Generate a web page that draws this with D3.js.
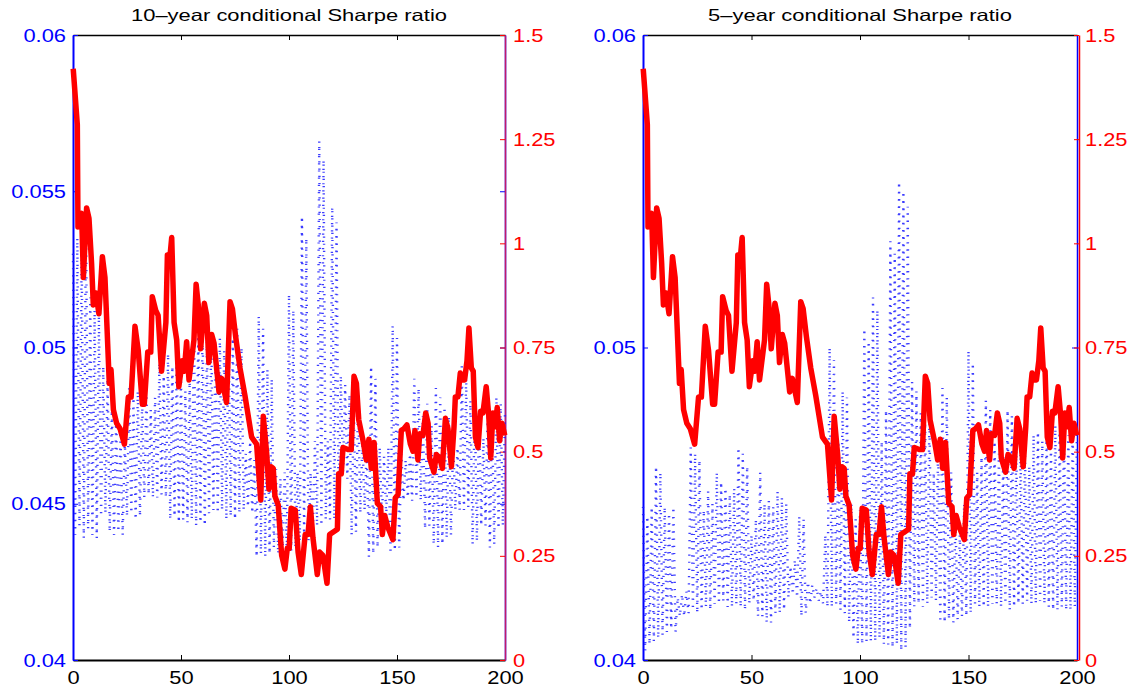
<!DOCTYPE html>
<html>
<head>
<meta charset="utf-8">
<script src="https://cdn.jsdelivr.net/npm/d3@7"></script>
<style>
  body { margin: 0; background: #fff; }
</style>
</head>
<body>
<svg id="chart" width="1141" height="690"></svg>
<script>
// titles and ticks
const titles = ['10\u2013year conditional Sharpe ratio', '5\u2013year conditional Sharpe ratio'];
const xTicks = [0, 50, 100, 150, 200];
const redTicks = [0, 0.25, 0.5, 0.75, 1, 1.25, 1.5];
const blueTicks10 = [0.04, 0.045, 0.05, 0.055, 0.06];
const blueTicks5 = [0.04, 0.05, 0.06];

// red series (right axis), same in both panels: vertex positions and values
const redX = [0.1, 2, 2.3, 4, 4.8, 6.3, 7.4, 8.6, 9.4, 10.6, 12, 13.6, 14.8, 16.8, 17.6, 18.7, 20.2, 21.8, 23.8, 25.6,
  26.9, 28.7, 30.2, 32.1, 33, 34.6, 36, 36.7, 38.3, 39.4, 41, 43, 43.7, 44.6, 45.7, 46.8, 48, 49, 50.6, 51.5,
  52.6, 53.7, 56, 57, 58, 59.1, 60.8, 61.9, 62.9, 64.2, 65.3, 67.6, 68.8, 69.6, 71.1, 72.7, 73.8, 75.3, 77.3, 79.6,
  82.7, 85, 86.9, 88.1, 89.7, 90.7, 91.7, 92.7, 93.5, 95, 96.6, 98.1, 99.2, 100.1, 101, 102.9, 104.2, 105.7, 107.5, 108.8,
  109.9, 111.1, 113.1, 114.2, 115.7, 117.6, 118.8, 122.4, 123, 124.2, 125, 127.3, 128.8, 130.1, 131.2, 132.3, 134.3, 135.8, 137, 138.1,
  139.4, 140.9, 142.4, 143.2, 144.3, 145.8, 148.1, 149.2, 150.5, 152, 153.2, 154.6, 156.2, 157.4, 158.3, 159.7, 160.5, 162, 163.3, 164.4,
  165.1, 167.1, 168.2, 169.8, 171, 172.4, 173.6, 175.2, 176.4, 177, 178.2, 179.3, 180.2, 181.3, 182.4, 183.3, 184.4, 185.3, 186.3, 187.5,
  188.7, 189.8, 191.3, 192.5, 193.4, 194.4, 195.5, 196.4, 197.5, 198.6, 199.9];
const redY = [1.419, 1.285, 1.039, 1.072, 0.918, 1.085, 1.060, 0.952, 0.852, 0.881, 0.831, 0.968, 0.918, 0.664, 0.697, 0.601, 0.568, 0.555, 0.518, 0.631,
  0.631, 0.801, 0.743, 0.614, 0.614, 0.739, 0.739, 0.872, 0.839, 0.827, 0.693, 0.810, 0.972, 0.952, 1.014, 0.810, 0.768, 0.656, 0.718, 0.693,
  0.764, 0.672, 0.768, 0.902, 0.852, 0.747, 0.856, 0.827, 0.714, 0.781, 0.760, 0.643, 0.676, 0.656, 0.618, 0.860, 0.843, 0.776, 0.701, 0.635,
  0.535, 0.518, 0.384, 0.585, 0.493, 0.410, 0.464, 0.460, 0.393, 0.372, 0.251, 0.218, 0.268, 0.268, 0.364, 0.360, 0.259, 0.205, 0.301, 0.301,
  0.368, 0.293, 0.205, 0.259, 0.251, 0.184, 0.301, 0.314, 0.447, 0.447, 0.510, 0.505, 0.505, 0.681, 0.664, 0.576, 0.526, 0.480, 0.530, 0.460,
  0.522, 0.376, 0.368, 0.301, 0.347, 0.318, 0.289, 0.389, 0.397, 0.551, 0.555, 0.564, 0.518, 0.501, 0.551, 0.480, 0.543, 0.539, 0.593, 0.568,
  0.485, 0.451, 0.493, 0.485, 0.460, 0.580, 0.555, 0.464, 0.560, 0.631, 0.631, 0.689, 0.672, 0.672, 0.718, 0.797, 0.701, 0.693, 0.535, 0.510,
  0.597, 0.593, 0.656, 0.585, 0.485, 0.593, 0.560, 0.606, 0.526, 0.568, 0.539];

// blue series (left axis), one value per period 0..200
const blue10 = [
  0.0530, 0.0440, 0.0535, 0.0443, 0.0532, 0.0439, 0.0545, 0.0442, 0.0516, 0.0440,
  0.0512, 0.0439, 0.0510, 0.0446, 0.0494, 0.0447, 0.0490, 0.0441, 0.0480, 0.0440,
  0.0478, 0.0441, 0.0472, 0.0440, 0.0470, 0.0446, 0.0487, 0.0447, 0.0484, 0.0445,
  0.0486, 0.0446, 0.0483, 0.0452, 0.0485, 0.0453, 0.0480, 0.0452, 0.0484, 0.0452,
  0.0495, 0.0453, 0.0491, 0.0452, 0.0498, 0.0445, 0.0494, 0.0446, 0.0497, 0.0444,
  0.0490, 0.0445, 0.0486, 0.0444, 0.0489, 0.0445, 0.0509, 0.0443, 0.0505, 0.0444,
  0.0508, 0.0443, 0.0502, 0.0447, 0.0505, 0.0448, 0.0500, 0.0447, 0.0503, 0.0448,
  0.0499, 0.0445, 0.0507, 0.0446, 0.0503, 0.0445, 0.0506, 0.0447, 0.0500, 0.0448,
  0.0466, 0.0449, 0.0470, 0.0447, 0.0464, 0.0433, 0.0510, 0.0434, 0.0506, 0.0433,
  0.0493, 0.0434, 0.0490, 0.0436, 0.0461, 0.0434, 0.0458, 0.0435, 0.0460, 0.0434,
  0.0517, 0.0435, 0.0512, 0.0436, 0.0460, 0.0438, 0.0542, 0.0438, 0.0535, 0.0438,
  0.0460, 0.0440, 0.0470, 0.0443, 0.0566, 0.0443, 0.0560, 0.0445, 0.0470, 0.0445,
  0.0545, 0.0445, 0.0540, 0.0446, 0.0491, 0.0460, 0.0488, 0.0458, 0.0485, 0.0440,
  0.0483, 0.0441, 0.0485, 0.0447, 0.0470, 0.0448, 0.0468, 0.0433, 0.0494, 0.0434,
  0.0490, 0.0436, 0.0468, 0.0445, 0.0465, 0.0446, 0.0468, 0.0434, 0.0507, 0.0435,
  0.0503, 0.0436, 0.0466, 0.0451, 0.0464, 0.0452, 0.0466, 0.0451, 0.0490, 0.0452,
  0.0487, 0.0451, 0.0478, 0.0442, 0.0482, 0.0443, 0.0475, 0.0437, 0.0487, 0.0436,
  0.0484, 0.0437, 0.0481, 0.0439, 0.0478, 0.0440, 0.0470, 0.0448, 0.0468, 0.0448,
  0.0494, 0.0448, 0.0490, 0.0449, 0.0483, 0.0437, 0.0483, 0.0438, 0.0480, 0.0443,
  0.0471, 0.0443, 0.0481, 0.0436, 0.0479, 0.0437, 0.0484, 0.0442, 0.0482, 0.0443,
  0.0480];
const blue5 = [
  0.0449, 0.0403, 0.0446, 0.0405, 0.0449, 0.0406, 0.0462, 0.0407, 0.0460, 0.0408,
  0.0449, 0.0409, 0.0447, 0.0410, 0.0449, 0.0409, 0.0420, 0.0414, 0.0421, 0.0414,
  0.0422, 0.0415, 0.0468, 0.0416, 0.0466, 0.0415, 0.0464, 0.0416, 0.0448, 0.0417,
  0.0454, 0.0416, 0.0450, 0.0418, 0.0460, 0.0418, 0.0457, 0.0419, 0.0455, 0.0417,
  0.0453, 0.0417, 0.0455, 0.0418, 0.0468, 0.0417, 0.0466, 0.0416, 0.0462, 0.0418,
  0.0440, 0.0419, 0.0445, 0.0414, 0.0460, 0.0414, 0.0450, 0.0412, 0.0451, 0.0412,
  0.0449, 0.0415, 0.0454, 0.0415, 0.0452, 0.0416, 0.0450, 0.0420, 0.0430, 0.0421,
  0.0432, 0.0420, 0.0446, 0.0414, 0.0445, 0.0415, 0.0425, 0.0418, 0.0424, 0.0420,
  0.0423, 0.0419, 0.0422, 0.0418, 0.0440, 0.0417, 0.0500, 0.0417, 0.0496, 0.0418,
  0.0470, 0.0416, 0.0486, 0.0415, 0.0484, 0.0412, 0.0450, 0.0407, 0.0445, 0.0405,
  0.0448, 0.0405, 0.0506, 0.0406, 0.0502, 0.0406, 0.0516, 0.0406, 0.0512, 0.0407,
  0.0470, 0.0405, 0.0480, 0.0405, 0.0534, 0.0404, 0.0530, 0.0405, 0.0553, 0.0403,
  0.0550, 0.0404, 0.0545, 0.0410, 0.0489, 0.0417, 0.0486, 0.0418, 0.0479, 0.0417,
  0.0476, 0.0418, 0.0478, 0.0420, 0.0460, 0.0419, 0.0470, 0.0412, 0.0487, 0.0412,
  0.0484, 0.0413, 0.0460, 0.0412, 0.0445, 0.0413, 0.0440, 0.0414, 0.0450, 0.0414,
  0.0499, 0.0415, 0.0495, 0.0418, 0.0460, 0.0417, 0.0465, 0.0417, 0.0483, 0.0417,
  0.0480, 0.0418, 0.0470, 0.0418, 0.0466, 0.0417, 0.0465, 0.0418, 0.0480, 0.0416,
  0.0478, 0.0417, 0.0468, 0.0418, 0.0466, 0.0418, 0.0468, 0.0419, 0.0462, 0.0418,
  0.0472, 0.0418, 0.0473, 0.0419, 0.0470, 0.0418, 0.0473, 0.0417, 0.0468, 0.0416,
  0.0475, 0.0416, 0.0473, 0.0417, 0.0475, 0.0416, 0.0472, 0.0416, 0.0474, 0.0417,
  0.0475];

const svg = d3.select('#chart');
const plotTop = 35, plotBottom = 660;
const font = '"Liberation Sans", Arial, Helvetica, sans-serif';

// stretch text horizontally like the reference (wide glyphs)
function stretch(sel, k) {
  sel.each(function() {
    const w = this.getComputedTextLength();
    if (w > 0) d3.select(this).attr('textLength', w * k).attr('lengthAdjust', 'spacingAndGlyphs');
  });
}

const panels = [
  {title: titles[0], blue: blue10, blueTicks: blueTicks10, left: 73, right: 505, rightColor: '#c0186c', redShift: 0},
  {title: titles[1], blue: blue5, blueTicks: blueTicks5, left: 643, right: 1077, rightColor: '#ff0000', redShift: 2}
];

panels.forEach(p => {
  const x = d3.scaleLinear().domain([0, 200]).range([p.left, p.right]);
  const yBlue = d3.scaleLinear().domain([0.04, 0.06]).range([plotBottom, plotTop]);
  const yRed = d3.scaleLinear().domain([0, 1.5]).range([plotBottom, plotTop]);

  const g = svg.append('g');

  // top axis (ticks only)
  g.append('g')
    .attr('transform', `translate(0,${plotTop})`)
    .call(d3.axisTop(x).tickValues([50, 100, 150]).tickFormat('').tickSizeInner(-5).tickSizeOuter(0))
    .call(a => a.select('.domain').attr('stroke', '#000').attr('stroke-width', 1.3));

  // bottom axis
  const xa = g.append('g')
    .attr('transform', `translate(0,${plotBottom})`)
    .call(d3.axisBottom(x).tickValues(xTicks).tickSizeInner(-5).tickSizeOuter(0).tickPadding(11))
    .attr('font-size', 19).attr('font-family', font);
  xa.select('.domain').attr('stroke', '#000').attr('stroke-width', 2);
  xa.selectAll('text').attr('fill', '#000');
  stretch(xa.selectAll('text'), 1.15);

  // right blue ticks (mirror of left axis)
  g.append('g')
    .attr('transform', `translate(${p.right},0)`)
    .call(d3.axisRight(yBlue).tickValues(p.blueTicks.slice(1, -1)).tickFormat('').tickSizeInner(-5).tickSizeOuter(0))
    .call(a => a.select('.domain').attr('stroke', '#0000ff').attr('stroke-width', 1.5))
    .call(a => a.selectAll('.tick line').attr('stroke', '#0000ff'));

  // right red axis
  const ra = g.append('g')
    .attr('transform', `translate(${p.right + p.redShift},0)`)
    .call(d3.axisRight(yRed).tickValues(redTicks).tickFormat(d => String(d)).tickSizeInner(-5).tickSizeOuter(0).tickPadding(8 - p.redShift))
    .attr('font-size', 19).attr('font-family', font);
  ra.select('.domain').attr('stroke', p.rightColor).attr('stroke-width', 1.5);
  ra.selectAll('.tick line').attr('stroke', '#ff0000');
  ra.selectAll('text').attr('fill', '#ff0000');
  stretch(ra.selectAll('text'), 1.15);

  // left blue axis
  const la = g.append('g')
    .attr('transform', `translate(${p.left},0)`)
    .call(d3.axisLeft(yBlue).tickValues(p.blueTicks).tickFormat(d => String(d)).tickSizeInner(-5).tickSizeOuter(0).tickPadding(7))
    .attr('font-size', 19).attr('font-family', font);
  la.select('.domain').attr('stroke', '#0000ff').attr('stroke-width', 2);
  la.selectAll('.tick line').attr('stroke', '#0000ff');
  la.selectAll('text').attr('fill', '#0000ff');
  stretch(la.selectAll('text'), 1.15);

  // blue dotted series
  g.append('path')
    .datum(p.blue)
    .attr('fill', 'none')
    .attr('stroke', '#1a1aff')
    .attr('stroke-opacity', 0.85)
    .attr('stroke-width', 2.4)
    .attr('stroke-dasharray', '1.2,6')
    .attr('d', d3.line().x((d, i) => x(i)).y(d => yBlue(d)));

  // red series, on top
  g.append('path')
    .datum(redY)
    .attr('fill', 'none')
    .attr('stroke', '#ff0000')
    .attr('stroke-width', 5.5)
    .attr('stroke-linejoin', 'round')
    .attr('d', d3.line().x((d, i) => x(redX[i])).y(d => yRed(d)));

  // title
  const t = g.append('text')
    .attr('x', (p.left + p.right) / 2)
    .attr('y', 21)
    .attr('text-anchor', 'middle')
    .attr('font-family', font)
    .attr('font-size', 16.5)
    .attr('fill', '#000')
    .text(p.title);
  stretch(t, 1.33);
});
</script>
</body>
</html>
